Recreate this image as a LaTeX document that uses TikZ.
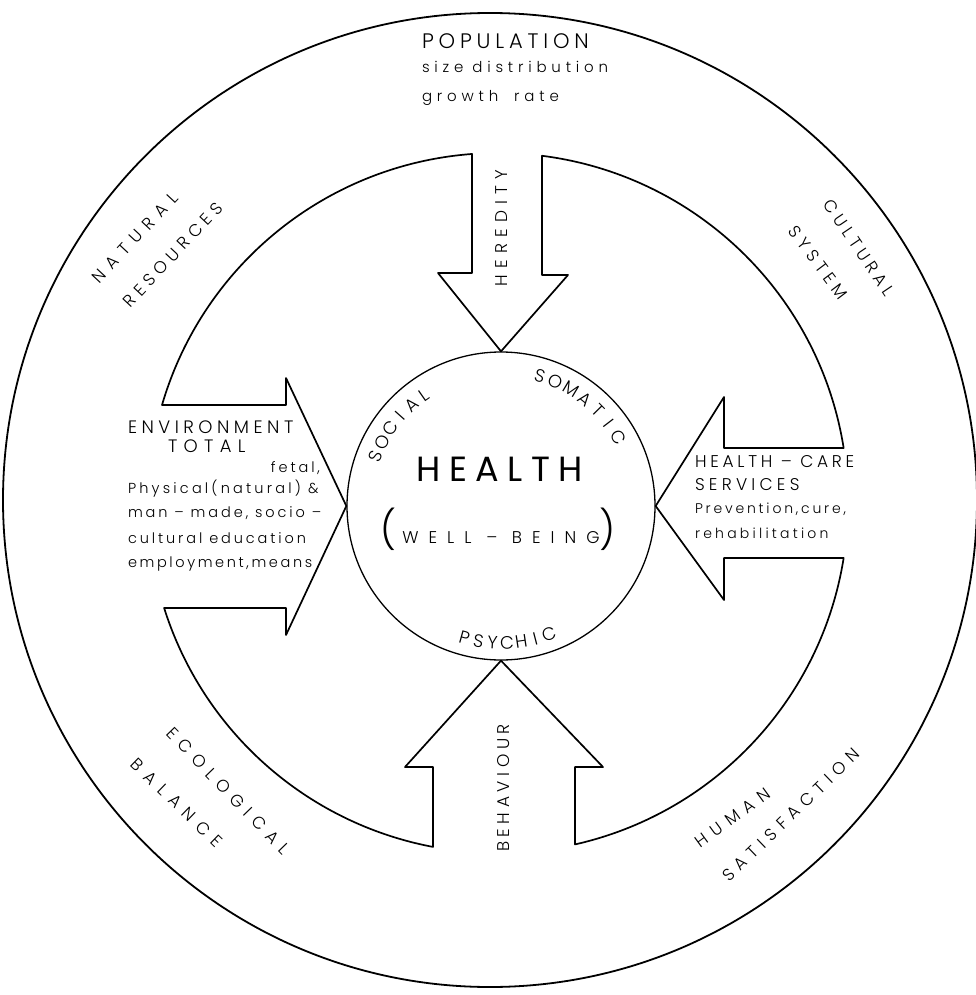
\documentclass[tikz,border=0pt]{standalone}
\usepackage{fontspec}
\IfFontExistsTF{Poppins Light}{\setmainfont{Poppins Light}}{\setmainfont{Poppins}}
\newfontfamily\popreg{Poppins}
\usetikzlibrary{calc}
\newcommand\fs[2]{\fontsize{#1}{#1}\selectfont\addfontfeature{LetterSpace=#2}}
\newcommand\arcletters[6]{%
  \foreach \ch [count=\i from 0] in {#6} {%
    \pgfmathsetmacro\ang{#3+(#4)*\i}%
    \pgfmathsetmacro\rot{\ang+(#5)}%
    \node[lbl, rotate=\rot] (#1\i) at ($(health.center)+(\ang:#2)$) {\fs{18}{0}\ch};
  }}
\begin{document}
\begin{tikzpicture}[x=1pt,y=1pt,
  lbl/.style={inner sep=0pt, outer sep=0pt},
  ring/.style={line width=1.7pt, line join=round}]
\useasboundingbox (0,0) rectangle (976,-995);
\fill[white] (0,0) rectangle (976,-995);
\coordinate (O) at (490,-500);
\coordinate (M) at (498,-503);
\node[circle, draw, line width=1.3pt, minimum size=308pt, inner sep=0pt] (health) at (501,-506) {};
\draw[line width=1.8pt] (O) circle[radius=487];

\draw[ring] ($(M)+(82.78:350)$) arc[start angle=82.78, end angle=9.04, radius=350]
 -- (724,-448) -- (724,-397) -- (health.east) -- (724,-600) -- (724,-558)
 -- ($(M)+(-9.04:350)$) arc[start angle=-9.04, end angle=-77.29, radius=350]
 -- (575,-767) -- (603,-767) -- (health.south) -- (405,-767) -- (433,-767)
 -- ($(M)+(-100.70:350)$) arc[start angle=-100.70, end angle=-162.54, radius=350]
 -- (286,-608) -- (286,-635) -- (health.west) -- (286,-378) -- (286,-405)
 -- ($(M)+(163.74:350)$) arc[start angle=163.74, end angle=94.26, radius=350]
 -- (472,-273) -- (438,-273) -- (health.north) -- (568,-275) -- (542,-275) -- cycle;

% top block
\node[lbl, anchor=base west] (pop) at (422,-49) {\fs{21}{23}POPULATION};
\node[lbl, anchor=base west] (popsz) at (422,-73) {\fs{15}{32}size distribution};
\node[lbl, anchor=base west] (popgr) at (422,-102) {\fs{15}{32}growth\hspace{16pt}rate};

% arrows labels
\node[lbl, rotate=90] (hered) at (502,-228) {\fs{17}{37}HEREDITY};
\node[lbl, rotate=90] (behav) at (504,-788) {\fs{17}{27}BEHAVIOUR};

% environment block
\node[lbl, anchor=base west] (env1) at (128,-433) {\fs{18}{25}ENVIRONMENT};
\node[lbl, anchor=base west] (env2) at (168,-452) {\fs{18}{35}TOTAL};
\node[lbl, anchor=base east] (env3) at (320,-472) {\fs{14.5}{20}fetal,};
\node[lbl, anchor=base west] (env4) at (128,-493) {\fs{14.5}{22}Physical(natural) \&};
\node[lbl, anchor=base west] (env5) at (128,-517) {\fs{14.5}{20}man – made, socio –};
\node[lbl, anchor=base west] (env6) at (128,-543) {\fs{14.5}{20}cultural education};
\node[lbl, anchor=base west] (env7) at (128,-567) {\fs{14.5}{18}employment,means};

% health-care block
\node[lbl, anchor=base west] (hc1) at (695,-467) {\fs{17}{22}HEALTH – CARE};
\node[lbl, anchor=base west] (hc2) at (695,-490) {\fs{17}{25}SERVICES};
\node[lbl, anchor=base west] (hc3) at (695,-513) {\fs{14}{20}Prevention,cure,};
\node[lbl, anchor=base west] (hc4) at (695,-538) {\fs{14}{23}rehabilitation};

% centre
\node[lbl, anchor=base] (hl) at (500,-481) {\popreg\fs{35}{24}HEALTH};
\node[lbl, anchor=base] (wb) at (498,-543) {{\fs{38}{0}(}\hspace{6pt}{\fs{17}{59}WELL – BEING}{\fs{38}{0})}};
\arcletters{somatic}{136}{73.4}{-7.2}{-90}{S,O,M,A,T,I,C}
\arcletters{social}{135}{158.3}{-6.68}{-90}{S,O,C,I,A,L}
\arcletters{psychic}{137}{-105.5}{6}{90}{P,S,Y,C,H,I,C}

% outer ring labels
\node[lbl, rotate=47] (nat) at (135,-238) {\fs{17}{45}NATURAL};
\node[lbl, rotate=47] (res) at (173,-255) {\fs{17}{31}RESOURCES};
\node[lbl, rotate=-56] (cul) at (859,-248) {\fs{17}{27}CULTURAL};
\node[lbl, rotate=-53] (sys) at (818,-263) {\fs{17}{31}SYSTEM};
\node[lbl, rotate=-46] (eco) at (228,-791) {\fs{17}{42}ECOLOGICAL};
\node[lbl, rotate=-44] (bal) at (177,-803) {\fs{17}{46}BALANCE};
\node[lbl, rotate=36] (hum) at (733,-818) {\fs{17}{41}HUMAN};
\node[lbl, rotate=44] (sat) at (791,-815) {\fs{17}{37}SATISFACTION};
\end{tikzpicture}
\end{document}
